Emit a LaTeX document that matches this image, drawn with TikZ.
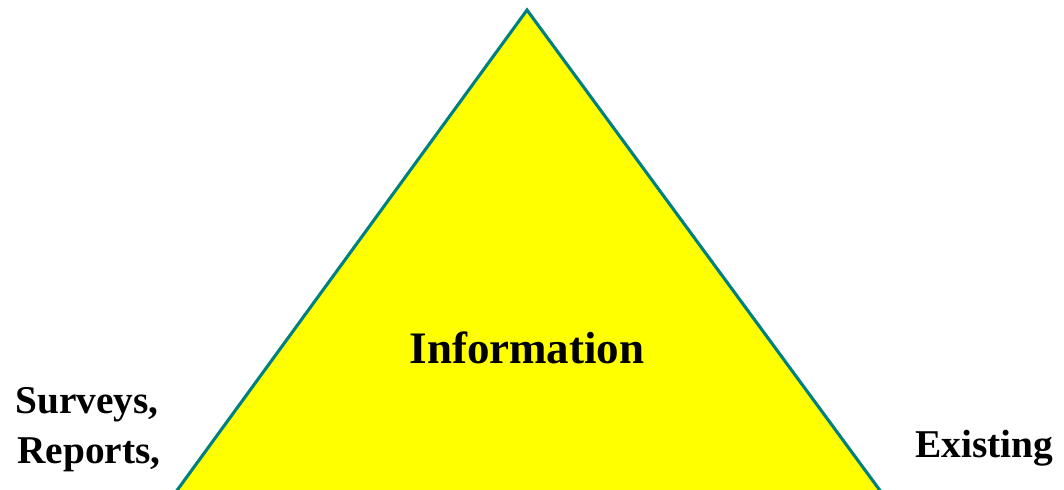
\documentclass[tikz,border=0pt]{standalone}
\usepackage{fontspec}
\setmainfont{Liberation Serif}
\usepackage{xcolor}
\definecolor{edgeteal}{RGB}{0,128,128}
\definecolor{fillyellow}{RGB}{255,255,0}

\begin{document}
\begin{tikzpicture}[x=0.025cm,y=-0.025cm,
        label/.style={anchor=base west,inner sep=0pt,font=\fontsize{28}{34}\selectfont\bfseries}]
            \useasboundingbox (0,0) rectangle (1064,489);
            \clip (0,0) rectangle (1064,489);
            \coordinate (apex) at (527,10);
            \coordinate (left) at (170,500);
            \coordinate (right) at (887,500);
            \fill[fillyellow] (apex) -- (left) -- (right) -- cycle;
            \draw[edgeteal,line width=2.2pt,line join=miter] (left) -- (apex) -- (right);

            \node (info) at (527,363) [anchor=base,inner sep=0pt,font=\fontsize{32}{38}\selectfont\bfseries] {Information};
            \node (surveys) at (15,413) [label] {Surveys,};
            \node (reports) at (17,463) [label] {Reports,};
            \node (existing) at (915,457) [label] {Existing};

        \end{tikzpicture}
\end{document}
